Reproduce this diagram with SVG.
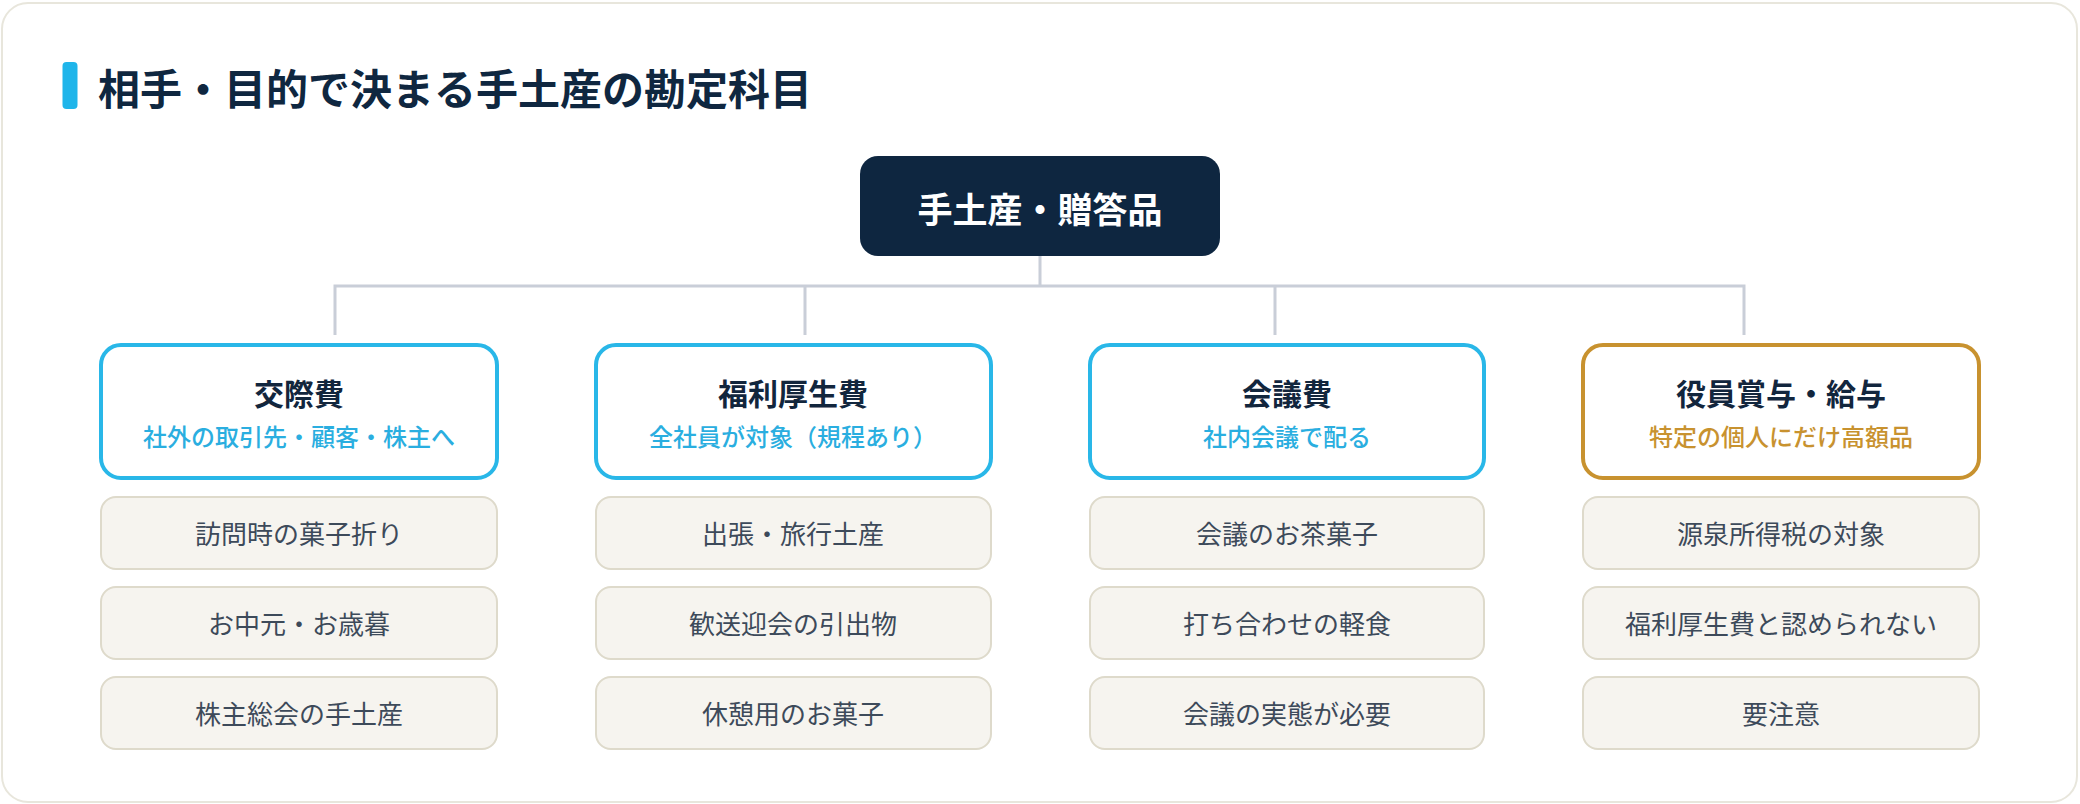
<svg xmlns="http://www.w3.org/2000/svg" width="2080" height="804" viewBox="0 0 2080 804">
<style>
text{font-family:"Noto Sans CJK JP","Noto Sans",sans-serif;text-anchor:middle}
.title{font-size:42px;font-weight:700;fill:#0f2740;text-anchor:start}
.root-t{font-size:35px;font-weight:700;fill:#ffffff}
.cat{fill:#ffffff;stroke-width:4}
.cat-blue{stroke:#29b7e8}
.cat-gold{stroke:#c8922f}
.cat-t{font-size:30px;font-weight:700;fill:#12263d}
.sub-blue{font-size:24px;font-weight:500;fill:#2aaee0}
.sub-gold{font-size:24px;font-weight:500;fill:#c8922f}
.item{fill:#f6f4ef;stroke:#dedacb;stroke-width:2}
.item-t{font-size:26px;font-weight:400;fill:#3d4a5a}
.conn{stroke:#c9ced8;stroke-width:3;fill:none}
</style>
<rect x="2" y="3" width="2075" height="799" rx="26" fill="#ffffff" stroke="#e8e6dc" stroke-width="2"/>
<g id="title">
<rect x="62.5" y="62" width="15" height="47" rx="4" fill="#1fb5ea"/>
<text class="title" x="98" y="105">相手・目的で決まる手土産の勘定科目</text>
</g>
<g id="connectors">
<path class="conn" d="M1040 256V286M335 286H1745M335 284.5V335M805 284.5V335M1275 284.5V335M1744 284.5V335"/>
</g>
<g id="root">
<rect x="860" y="156" width="360" height="100" rx="18" fill="#0e2640"/>
<text class="root-t" x="1040" y="222.5">手土産・贈答品</text>
</g>
<g id="col1">
<rect class="cat cat-blue" x="101" y="345" width="396" height="133" rx="20"/>
<text class="cat-t" x="299" y="405">交際費</text>
<text class="sub-blue" x="299" y="445.5">社外の取引先・顧客・株主へ</text>
<rect class="item" x="101" y="497" width="396" height="72" rx="15"/>
<text class="item-t" x="299" y="544">訪問時の菓子折り</text>
<rect class="item" x="101" y="587" width="396" height="72" rx="15"/>
<text class="item-t" x="299" y="634">お中元・お歳暮</text>
<rect class="item" x="101" y="677" width="396" height="72" rx="15"/>
<text class="item-t" x="299" y="724">株主総会の手土産</text>
</g>
<g id="col2">
<rect class="cat cat-blue" x="596" y="345" width="395" height="133" rx="20"/>
<text class="cat-t" x="793" y="405">福利厚生費</text>
<text class="sub-blue" x="793" y="445.5">全社員が対象（規程あり）</text>
<rect class="item" x="596" y="497" width="395" height="72" rx="15"/>
<text class="item-t" x="793" y="544">出張・旅行土産</text>
<rect class="item" x="596" y="587" width="395" height="72" rx="15"/>
<text class="item-t" x="793" y="634">歓送迎会の引出物</text>
<rect class="item" x="596" y="677" width="395" height="72" rx="15"/>
<text class="item-t" x="793" y="724">休憩用のお菓子</text>
</g>
<g id="col3">
<rect class="cat cat-blue" x="1090" y="345" width="394" height="133" rx="20"/>
<text class="cat-t" x="1287" y="405">会議費</text>
<text class="sub-blue" x="1287" y="445.5">社内会議で配る</text>
<rect class="item" x="1090" y="497" width="394" height="72" rx="15"/>
<text class="item-t" x="1287" y="544">会議のお茶菓子</text>
<rect class="item" x="1090" y="587" width="394" height="72" rx="15"/>
<text class="item-t" x="1287" y="634">打ち合わせの軽食</text>
<rect class="item" x="1090" y="677" width="394" height="72" rx="15"/>
<text class="item-t" x="1287" y="724">会議の実態が必要</text>
</g>
<g id="col4">
<rect class="cat cat-gold" x="1583" y="345" width="396" height="133" rx="20"/>
<text class="cat-t" x="1781" y="405">役員賞与・給与</text>
<text class="sub-gold" x="1781" y="445.5">特定の個人にだけ高額品</text>
<rect class="item" x="1583" y="497" width="396" height="72" rx="15"/>
<text class="item-t" x="1781" y="544">源泉所得税の対象</text>
<rect class="item" x="1583" y="587" width="396" height="72" rx="15"/>
<text class="item-t" x="1781" y="634">福利厚生費と認められない</text>
<rect class="item" x="1583" y="677" width="396" height="72" rx="15"/>
<text class="item-t" x="1781" y="724">要注意</text>
</g>
</svg>
